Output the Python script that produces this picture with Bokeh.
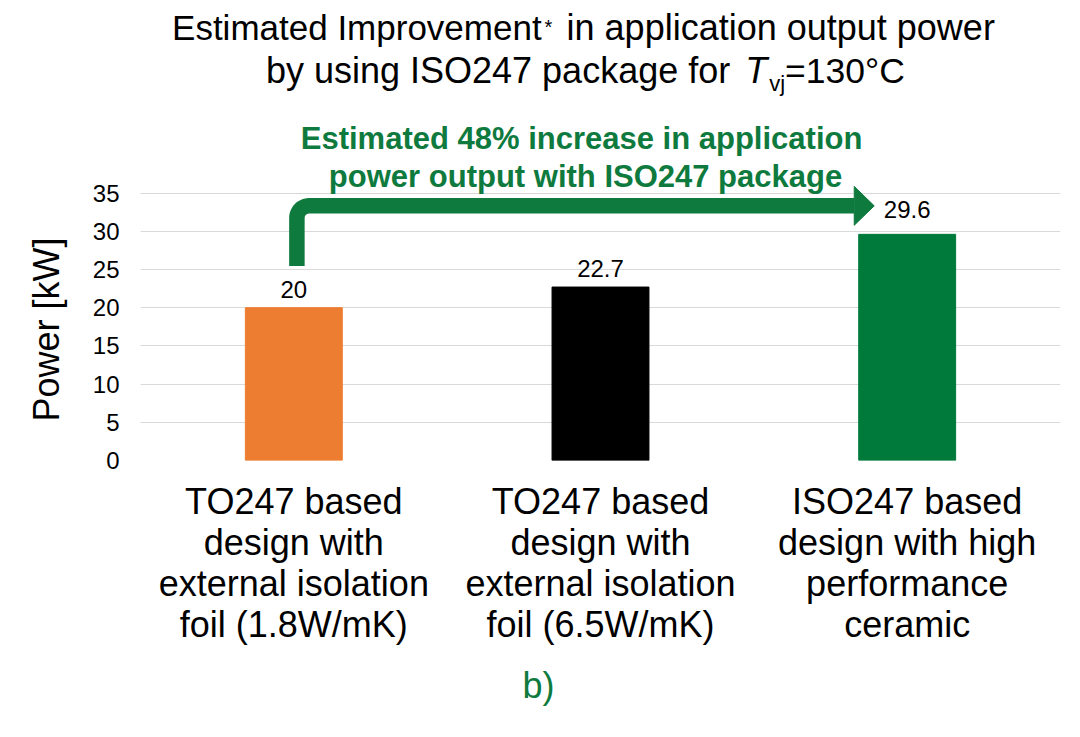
import numpy as np
from bokeh.plotting import figure
from bokeh.models import FactorRange, Range1d, FixedTicker, Label, ColumnDataSource, Title
from bokeh.embed import file_html
from bokeh.resources import INLINE
from bokeh.core.properties import value

# ---------------- data ----------------
categories = [
    "TO247 based\ndesign with\nexternal isolation\nfoil (1.8W/mK)",
    "TO247 based\ndesign with\nexternal isolation\nfoil (6.5W/mK)",
    "ISO247 based\ndesign with high\nperformance\nceramic",
]
power_kw = [20, 22.7, 29.6]
value_labels = ["20", "22.7", "29.6"]
y_ticks = [0, 5, 10, 15, 20, 25, 30, 35]
y_tick_labels = ["0", "5", "10", "15", "20", "25", "30", "35"]

# ---------------- styles ----------------
bar_colors = ["#ED7D31", "#000000", "#007A3B"]
label_gap_px = [10.6, 10.6, 17.3]
GREEN = "#0E7A3E"
FONT = "Liberation Sans"
BASE_FIX = 0.33  # em shift so that text baselines land where intended

W, H = 1064, 720
FL, FR, FB = 138.0, 1060.0, 461.0
PX_X = (FR - FL) / 3.0
PX_Y = 268.0 / 35.0
Y_END = FB / PX_Y


def dx(img_x):
    return (img_x - FL) / PX_X


def dy(img_y):
    return (FB - img_y) / PX_Y


p = figure(
    width=W, height=H,
    x_range=FactorRange(*categories, range_padding=0, factor_padding=0),
    y_range=Range1d(0, Y_END),
    output_backend="svg", toolbar_location=None,
    min_border_left=int(FL), min_border_right=int(W - FR),
    min_border_top=0, min_border_bottom=int(H - FB),
)
p.outline_line_color = None
p.background_fill_color = "white"
p.border_fill_color = "white"

VAL_SIZE = 24
label_y = [v + (g + BASE_FIX * VAL_SIZE) / PX_Y for v, g in zip(power_kw, label_gap_px)]
src = ColumnDataSource(dict(x=categories, top=power_kw, color=bar_colors,
                            txt=value_labels, ly=label_y))
p.vbar(x="x", top="top", width=0.316, color="color", source=src)
p.text(x="x", y="ly", text="txt", source=src,
       text_align="center", text_baseline="alphabetic",
       text_font=value(FONT), text_font_size=f"{VAL_SIZE}px", text_color="#000000")

# axes
p.xgrid.grid_line_color = None
p.ygrid.grid_line_color = "#D9D9D9"
p.ygrid.grid_line_width = 1.2
p.yaxis.ticker = FixedTicker(ticks=y_ticks)
p.yaxis.major_label_overrides = {t: l for t, l in zip(y_ticks, y_tick_labels)}
for ax in (p.xaxis, p.yaxis):
    ax.axis_line_color = None
    ax.major_tick_line_color = None
    ax.minor_tick_line_color = None
    ax.major_tick_in = 0
    ax.major_tick_out = 0
    ax.major_label_text_font = FONT
    ax.major_label_text_color = "#000000"
p.yaxis.major_label_text_font_size = "24px"
p.yaxis.major_label_standoff = 21
p.xaxis.major_label_text_font_size = "36px"
p.xaxis.major_label_text_line_height = 1.0
p.xaxis.major_label_standoff = 20

# side titles: y label and panel letter
p.add_layout(Title(text="Power [kW]", align="left", offset=39, standoff=46,
                   text_font=FONT, text_font_size="36px", text_font_style="normal",
                   text_color="#000000"), "left")
p.add_layout(Title(text="b)", align="left", offset=382, standoff=30,
                   text_font=FONT, text_font_size="36px", text_font_style="normal",
                   text_color=GREEN), "below")

# arrow from bar 1 to bar 3
x0 = 0.51
y0 = dy(266.0)
yh = dy(205.8)
x_base = dx(853.3)
x_tip = dx(873.3)
half_h = 19.5 / PX_Y
rx, ry = 12.0 / PX_X, 12.0 / PX_Y
th = np.linspace(np.pi, np.pi / 2, 12)
ax_ = [x0] + list(x0 + rx + rx * np.cos(th)) + [x_base]
ay_ = [y0] + list(yh - ry + ry * np.sin(th)) + [yh]
p.line(ax_, ay_, line_color=GREEN, line_width=15.5, line_cap="butt", line_join="round")
p.patch([x_base, x_tip, x_base], [yh + half_h, yh, yh - half_h], color=GREEN)


def lab(text, ix, iy, size, color="#000000", align="left", style="normal"):
    iy_fixed = iy - BASE_FIX * size
    p.add_layout(Label(x=dx(ix), y=dy(iy_fixed), text=text, text_font=FONT,
                       text_font_size=f"{size}px", text_color=color, text_align=align,
                       text_baseline="alphabetic", text_font_style=style))


# title
lab("Estimated Improvement", 540, 39, 35, align="right")
lab("*", 543, 33, 20)
lab("in application output power", 565, 39, 36)
lab("by using ISO247 package for", 729, 82, 36, align="right")
lab("T", 744, 82, 36, style="italic")
lab("vj", 768, 90, 22)
lab("=130°C", 784, 82, 35.5)

# annotation
lab("Estimated 48% increase in application", 580, 149, 31, color=GREEN,
    align="center", style="bold")
lab("power output with ISO247 package", 584, 187, 31, color=GREEN,
    align="center", style="bold")

open("out.html", "w").write(file_html(p, INLINE))
